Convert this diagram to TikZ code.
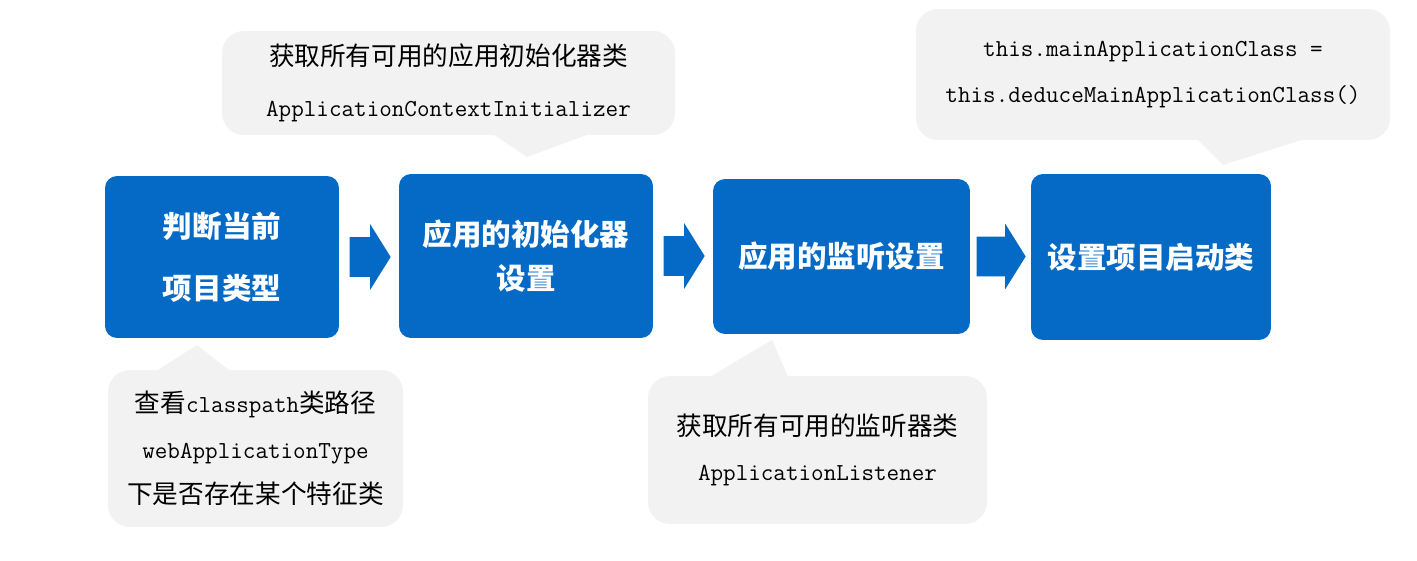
\documentclass[tikz,border=0pt]{standalone}
\usepackage{fontspec}
\newfontfamily\cjk[Scale=1.05]{Noto Sans CJK SC}
\usetikzlibrary{shapes.arrows,calc}
\definecolor{stageblue}{RGB}{4,106,198}
\definecolor{notegray}{RGB}{242,242,242}

\begin{document}
\begin{tikzpicture}[
  x=0.02cm, y=-0.02cm,
  stage/.style={fill=stageblue, rounded corners=0.24cm, align=center, text=white,
    inner sep=0pt, font=\fontsize{16}{25}\selectfont\cjk\bfseries},
  note/.style={fill=notegray, rounded corners=0.44cm, align=center, inner sep=0pt,
    font=\fontsize{13.9}{26}\selectfont\ttfamily},
  flow/.style={single arrow, fill=stageblue, inner xsep=0pt, inner ysep=0.39cm, anchor=tail,
    single arrow head extend=0.26cm, single arrow tip angle=116, minimum height=0.82cm},
  tail/.style={fill=notegray}
]
\useasboundingbox[fill=white] (0,0) rectangle (1417,561);

% main steps
\node[stage, minimum width=4.68cm, minimum height=3.24cm] (type) at (222,257) {判断当前\\[10pt]项目类型};
\node[stage, minimum width=5.08cm, minimum height=3.28cm] (init) at (526,256) {应用的初始化器\\设置};
\node[stage, minimum width=5.14cm, minimum height=3.10cm] (lsn) at (841.5,256.5) {应用的监听设置};
\node[stage, minimum width=4.80cm, minimum height=3.32cm] (main) at (1151,257) {设置项目启动类};

\node[flow] (a1) at ([xshift=0.2cm]type.east) {};
\node[flow] (a2) at ([xshift=0.2cm]init.east) {};
\node[flow, minimum height=0.98cm] (a3) at ([xshift=0.12cm]lsn.east) {};

% callouts
\node[note, minimum width=9.06cm, minimum height=2.08cm] (ninit) at (448.5,83)
  {{\cjk 获取所有可用的应用初始化器类}\\[3pt]ApplicationContextInitializer};
\fill[tail] (487,130) -- (527,157) -- (600,130) -- cycle;

\node[note, minimum width=9.48cm, minimum height=2.62cm] (nmain) at (1153,74.5)
  {this.mainApplicationClass =\\this.deduceMainApplicationClass()};
\fill[tail] (1193,135) -- (1223,165) -- (1317,135) -- cycle;

\node[note, minimum width=5.90cm, minimum height=3.14cm] (ntype) at (255.5,448.5)
  {{\cjk 查看}classpath{\cjk 类路径}\\webApplicationType\\{\cjk 下是否存在某个特征类}};
\fill[tail] (150,375) -- (197,345) -- (235,375) -- cycle;

\node[note, minimum width=6.78cm, minimum height=2.96cm] (nlsn) at (817.5,450)
  {{\cjk 获取所有可用的监听器类}\\ApplicationListener};
\fill[tail] (703,381) -- (772,340) -- (790,381) -- cycle;
\end{tikzpicture}
\end{document}
